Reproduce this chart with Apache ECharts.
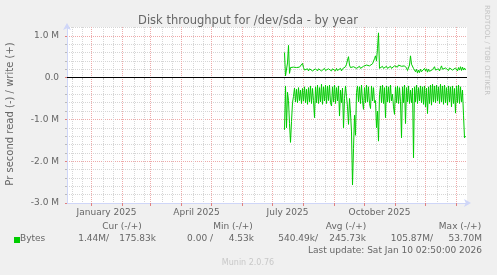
<!DOCTYPE html>
<html>
<head>
<meta charset="utf-8">
<script src="https://cdn.jsdelivr.net/npm/echarts@6/dist/echarts.min.js"></script>
<style>
html, body { margin: 0; padding: 0; background: #f0f0f0; }
#chart { width: 497px; height: 275px; }
</style>
</head>
<body>
<div id="chart"></div>
<script>
// one value per day, in M bytes/s, first day 2025-07-13
var firstDay = [2025, 7, 13];
var writeM = [
  0.60, 0.04, 0.05, 0.35, 0.77, 0.10, 0.24, 0.26, 0.23, 0.25,
  0.22, 0.26, 0.24, 0.27, 0.23, 0.25, 0.22, 0.27, 0.34, 0.24,
  0.18, 0.22, 0.17, 0.21, 0.16, 0.21, 0.17, 0.22, 0.16, 0.20,
  0.17, 0.21, 0.18, 0.16, 0.21, 0.17, 0.22, 0.16, 0.20, 0.18,
  0.22, 0.17, 0.21, 0.18, 0.21, 0.17, 0.20, 0.16, 0.21, 0.17,
  0.20, 0.16, 0.22, 0.17, 0.20, 0.18, 0.22, 0.16, 0.21, 0.18,
  0.23, 0.26, 0.32, 0.42, 0.50, 0.30, 0.24, 0.27, 0.22, 0.26,
  0.23, 0.27, 0.22, 0.26, 0.23, 0.27, 0.22, 0.25, 0.23, 0.27,
  0.24, 0.28, 0.30, 0.27, 0.31, 0.28, 0.32, 0.29, 0.33, 0.36,
  0.45, 0.52, 0.40, 0.70, 1.07, 0.22, 0.26, 0.23, 0.27, 0.22,
  0.26, 0.23, 0.27, 0.22, 0.26, 0.23, 0.27, 0.22, 0.26, 0.23,
  0.28, 0.24, 0.27, 0.25, 0.30, 0.26, 0.31, 0.27, 0.30, 0.26,
  0.28, 0.24, 0.23, 0.17, 0.16, 0.30, 0.52, 0.32, 0.36, 0.22,
  0.26, 0.14, 0.20, 0.11, 0.18, 0.12, 0.20, 0.14, 0.17, 0.13,
  0.22, 0.16, 0.21, 0.13, 0.20, 0.15, 0.18, 0.12, 0.19, 0.15,
  0.26, 0.18, 0.17, 0.14, 0.21, 0.16, 0.22, 0.28, 0.20, 0.24,
  0.18, 0.23, 0.19, 0.22, 0.17, 0.23, 0.19, 0.24, 0.18, 0.22,
  0.17, 0.23, 0.19, 0.16, 0.24, 0.18, 0.26, 0.17, 0.25, 0.18,
  0.23, 0.18
];
var readM = [
  -1.25, -0.20, -1.20, -0.35, -0.55, -1.10, -1.55, -1.05, -0.60, -0.45,
  -0.25, -0.58, -0.28, -0.60, -0.24, -0.55, -0.30, -0.62, -0.26, -0.56,
  -0.22, -0.60, -0.28, -0.64, -0.24, -0.58, -0.20, -0.62, -0.26, -0.55,
  -0.96, -0.22, -0.60, -0.18, -0.62, -0.24, -0.58, -0.16, -0.64, -0.22,
  -0.56, -0.18, -0.62, -0.20, -0.55, -0.18, -0.60, -0.68, -0.22, -0.58,
  -0.18, -0.62, -0.24, -0.56, -0.20, -0.92, -0.30, -0.60, -0.25, -1.20,
  -0.50, -0.20, -0.45, -0.70, -1.12, -0.50, -0.85, -1.30, -2.57, -1.70,
  -0.90, -1.38, -0.36, -0.20, -0.58, -0.22, -0.62, -0.18, -0.55, -0.76,
  -0.24, -0.60, -0.18, -0.58, -0.22, -0.62, -0.74, -0.20, -0.56, -0.24,
  -0.60, -0.55, -1.20, -0.80, -1.52, -0.40, -0.20, -0.60, -0.18, -0.62,
  -0.24, -0.96, -0.20, -0.58, -0.22, -0.60, -0.18, -0.56, -0.40, -0.70,
  -0.88, -0.22, -0.60, -0.20, -0.62, -0.24, -0.58, -1.44, -0.22, -0.60,
  -0.18, -1.10, -0.24, -0.58, -0.20, -0.62, -0.30, -0.60, -0.25, -1.92,
  -0.22, -0.58, -0.18, -0.62, -0.24, -0.56, -0.20, -0.60, -0.22, -0.64,
  -0.20, -0.70, -0.25, -0.86, -0.22, -0.62, -0.18, -0.66, -0.16, -0.58,
  -0.20, -0.60, -0.18, -0.56, -0.22, -0.62, -0.16, -0.58, -0.20, -0.64,
  -0.18, -0.60, -0.24, -0.66, -0.20, -0.58, -0.22, -0.70, -0.20, -0.62,
  -0.26, -0.85, -0.20, -0.60, -0.18, -0.62, -0.22, -0.58, -0.30, -0.90,
  -1.44, -1.40
];

var yTickValues = [-3, -2, -1, 0, 1];
var yTickLabels = ['-3.0 M', '-2.0 M', '-1.0 M', '0.0', '1.0 M'];
var xLabelDates = [[2025, 1, 16], [2025, 4, 16], [2025, 7, 16], [2025, 10, 16]];
var xLabelTexts = ['January 2025', 'April 2025', 'July 2025', 'October 2025'];
var minorDays = [13, 23];

var legendHead = ['Cur (-/+)', 'Min (-/+)', 'Avg (-/+)', 'Max (-/+)'];
var legendVals = ['1.44M/', '175.83k', '0.00 /', '4.53k', '540.49k/', '245.73k', '105.87M/', '53.70M'];

var origin = Date.UTC(2024, 11, 7, 12);
function dayOf(y, m, d) {
  return (Date.UTC(y, m - 1, d) - origin) / 86400000;
}

var monthTicks = [];
var minorTicks = [];
for (var k = 0; k < 14; k++) {
  var yy = 2024 + Math.floor((11 + k) / 12);
  var mm = (11 + k) % 12 + 1;
  monthTicks.push(dayOf(yy, mm, 1));
  for (var j = 0; j < minorDays.length; j++) minorTicks.push(dayOf(yy, mm, minorDays[j]));
}
var xLabelPos = xLabelDates.map(function (d) { return dayOf(d[0], d[1], d[2]); });

var x0 = dayOf(firstDay[0], firstDay[1], firstDay[2]);
var writeData = writeM.map(function (v, i) { return [x0 + i, v]; });
var readData = readM.map(function (v, i) { return [x0 + i, v]; });

// munin / rrdtool colours
var font = 'DejaVu Sans';
var txt = '#666';
var axisCol = '#cfd6f8';
var majorCol = '#eeaaaa';
var minorCol = '#d6d6d6';

function text(x, y, s, align, extra) {
  var o = {
    type: 'text', x: x, y: y, silent: true,
    style: { text: s, fill: txt, font: '9px "' + font + '"', align: align || 'left', verticalAlign: 'middle' }
  };
  if (extra) for (var key in extra) o.style[key] = extra[key];
  return o;
}

var graphics = [
  text(248, 21, 'Disk throughput for /dev/sda - by year', 'center', { font: '11.5px "' + font + '"' }),
  { type: 'text', x: 10, y: 114, rotation: Math.PI / 2, silent: true,
    style: { text: 'Pr second read (-) / write (+)', fill: txt, font: '10px "' + font + '"', align: 'center', verticalAlign: 'middle' } },
  { type: 'text', x: 487, y: 50, rotation: -Math.PI / 2, silent: true,
    style: { text: 'RRDTOOL / TOBI OETIKER', fill: '#c4c4c4', font: '7px "' + font + '"', align: 'center', verticalAlign: 'middle' } },
  { type: 'rect', shape: { x: 14, y: 237, width: 6, height: 6 }, style: { fill: '#00cc00' }, silent: true },
  text(20, 239, 'Bytes', 'left'),
  text(122, 227, legendHead[0], 'center'),
  text(233, 227, legendHead[1], 'center'),
  text(346, 227, legendHead[2], 'center'),
  text(460, 227, legendHead[3], 'center'),
  text(109, 239, legendVals[0], 'right'),
  text(156, 239, legendVals[1], 'right'),
  text(213, 239, legendVals[2], 'right'),
  text(254, 239, legendVals[3], 'right'),
  text(318, 239, legendVals[4], 'right'),
  text(366, 239, legendVals[5], 'right'),
  text(433, 239, legendVals[6], 'right'),
  text(482, 239, legendVals[7], 'right'),
  text(482, 251, 'Last update: Sat Jan 10 02:50:00 2026', 'right'),
  text(248, 262.5, 'Munin 2.0.76', 'center', { fill: '#c8c8c8', font: '8px "' + font + '"' })
];

var chart = echarts.init(document.getElementById('chart'));
chart.setOption({
  animation: false,
  backgroundColor: '#f0f0f0',
  grid: { left: 67, right: 30, top: 27, bottom: 72, show: true, backgroundColor: '#fff', borderWidth: 0 },
  xAxis: [
    {
      type: 'value', min: 0, max: 400, position: 'bottom',
      axisLine: { show: false },
      axisTick: { show: true, customValues: minorTicks, length: 2, lineStyle: { color: '#bbb' } },
      axisLabel: { show: false },
      splitLine: { show: true, lineStyle: { color: minorCol, type: 'dotted' } }
    },
    {
      type: 'value', min: 0, max: 400, position: 'bottom',
      axisLine: { show: true, lineStyle: { color: axisCol }, symbol: ['none', 'arrow'], symbolSize: [6, 7], symbolOffset: [0, 4] },
      axisTick: { show: true, customValues: monthTicks, length: 3, lineStyle: { color: '#e08080' } },
      axisLabel: {
        customValues: xLabelPos, color: txt, fontFamily: font, fontSize: 9, margin: 5,
        formatter: function (v) {
          var i = xLabelPos.indexOf(v);
          return i >= 0 ? xLabelTexts[i] : '';
        }
      },
      splitLine: { show: true, lineStyle: { color: majorCol, type: 'dotted' } }
    }
  ],
  yAxis: {
    type: 'value', min: -3, max: 1.21, interval: 1,
    axisLine: { show: true, lineStyle: { color: axisCol }, symbol: ['none', 'arrow'], symbolSize: [6, 7], symbolOffset: [0, 4] },
    axisTick: { show: true, length: 2, lineStyle: { color: '#e08080' } },
    minorTick: { show: true, splitNumber: 5, length: 2, lineStyle: { color: '#bbb' } },
    axisLabel: {
      color: txt, fontFamily: font, fontSize: 9, margin: 8,
      formatter: function (v) {
        var i = yTickValues.indexOf(Math.round(v * 10) / 10);
        return i >= 0 ? yTickLabels[i] : '';
      }
    },
    splitLine: { show: true, lineStyle: { color: majorCol, type: 'dotted' } },
    minorSplitLine: { show: true, lineStyle: { color: minorCol, type: 'dotted' } }
  },
  series: [
    {
      name: 'write', type: 'line', xAxisIndex: 1, data: writeData,
      showSymbol: false, lineStyle: { color: '#00cc00', width: 1 }, itemStyle: { color: '#00cc00' },
      markLine: {
        silent: true, symbol: 'none', label: { show: false },
        lineStyle: { color: '#000', width: 1, type: 'solid' },
        data: [{ yAxis: 0 }]
      }
    },
    {
      name: 'read', type: 'line', xAxisIndex: 1, data: readData,
      showSymbol: false, lineStyle: { color: '#00cc00', width: 1 }, itemStyle: { color: '#00cc00' }
    }
  ],
  graphic: graphics
});
</script>
</body>
</html>
